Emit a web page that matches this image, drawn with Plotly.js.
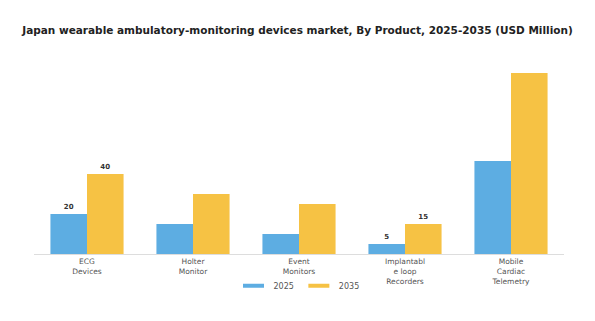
<!DOCTYPE html>
<html>
<head>
<meta charset="utf-8">
<script src="https://cdn.plot.ly/plotly-3.0.1.min.js"></script>
<style>html,body{margin:0;padding:0;background:#fff;}#chart{width:595px;height:321px;}</style>
</head>
<body>
<div id="chart"></div>
<script>
const categories = ["ECG<br>Devices", "Holter<br>Monitor", "Event<br>Monitors", "Implantabl<br>e loop<br>Recorders", "Mobile<br>Cardiac<br>Telemetry"];
const seriesNames = ["2025", "2035"];
const values2025 = [20, 15, 10, 5, 46.5];
const values2035 = [40, 30, 25, 15, 90.5];
const labels2025 = ["20", "", "", "5", ""];
const labels2035 = ["40", "", "", "15", ""];
const colors = ["#5DADE2", "#F6C244"];

const labelFont = {family: "DejaVu Sans", size: 7, color: "#333", weight: "bold"};
const traces = [
  {type: "bar", name: seriesNames[0], x: categories, y: values2025, text: labels2025,
   textposition: "outside", cliponaxis: false, textfont: labelFont,
   marker: {color: colors[0]}, showlegend: false},
  {type: "bar", name: seriesNames[1], x: categories, y: values2035, text: labels2035,
   textposition: "outside", cliponaxis: false, textfont: labelFont,
   marker: {color: colors[1]}, showlegend: false},
  {type: "scatter", mode: "markers", name: seriesNames[0], x: [null], y: [null],
   marker: {symbol: "line-ew-open", size: 15, color: colors[0], line: {width: 4, color: colors[0]}}},
  {type: "scatter", mode: "markers", name: seriesNames[1], x: [null], y: [null],
   marker: {symbol: "line-ew-open", size: 15, color: colors[1], line: {width: 4, color: colors[1]}}}
];

const layout = {
  width: 595, height: 321,
  margin: {l: 34, r: 31, t: 64, b: 67},
  paper_bgcolor: "#fff", plot_bgcolor: "#fff",
  title: {text: "<b>Japan wearable ambulatory-monitoring devices market, By Product, 2025-2035 (USD Million)</b>",
          font: {family: "DejaVu Sans", size: 10.5, color: "#222"}, x: 0.5, xanchor: "center", y: 0.905, yanchor: "middle"},
  barmode: "group", bargap: 0.31, bargroupgap: 0,
  xaxis: {type: "category", showgrid: false, showline: true, linecolor: "#ddd", linewidth: 1, ticks: "",
          tickfont: {family: "DejaVu Sans", size: 7.5, color: "#555"}, fixedrange: true, automargin: false},
  yaxis: {range: [0, 95], visible: false, showgrid: false, zeroline: false, fixedrange: true, automargin: false},
  showlegend: true,
  legend: {orientation: "h", x: 0.5, xanchor: "center", xref: "paper", yref: "container", y: 0.11, yanchor: "middle",
           bgcolor: "rgba(0,0,0,0)", font: {family: "DejaVu Sans", size: 8, color: "#555"}, itemwidth: 30, itemsizing: "trace"}
};

Plotly.newPlot("chart", traces, layout, {displayModeBar: false, staticPlot: true});
</script>
</body>
</html>
